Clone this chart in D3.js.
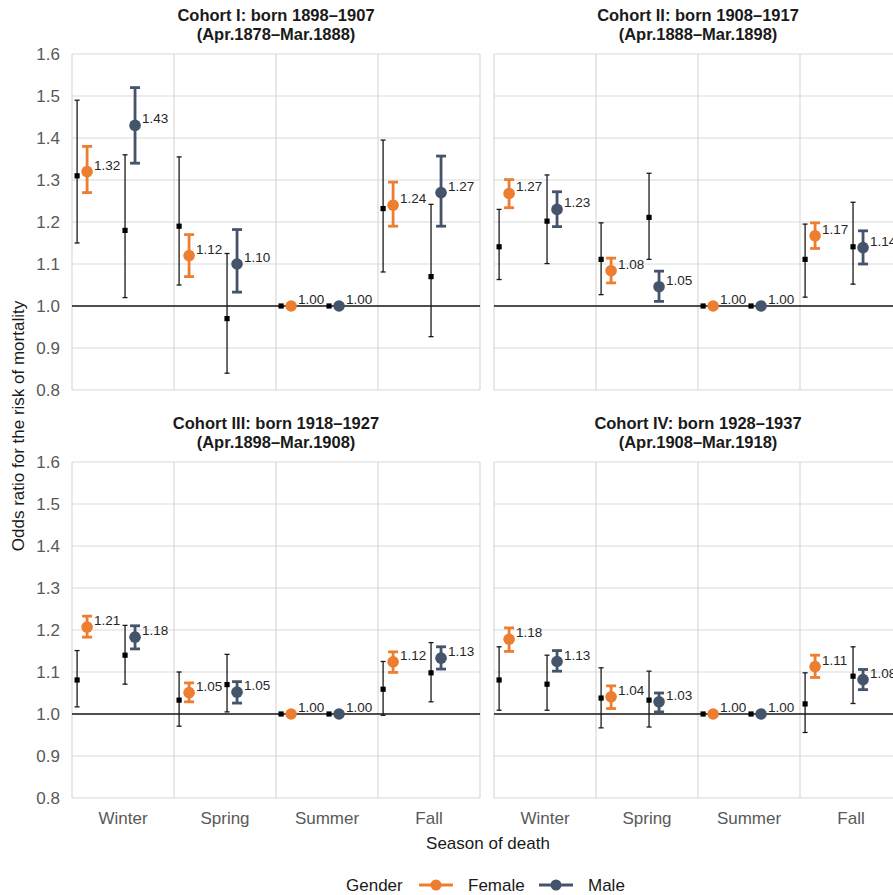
<!DOCTYPE html>
<html>
<head>
<meta charset="utf-8">
<script src="https://cdn.jsdelivr.net/npm/d3@7"></script>
<style>
  body { margin: 0; background: #fff; }
  svg { display: block; font-family: "Liberation Sans", Arial, sans-serif; }
</style>
</head>
<body>
<svg id="chart"></svg>
<script>
// seasons + panel titles
var seasons = ["Winter", "Spring", "Summer", "Fall"];
var cohortNames = ["Cohort I: born 1898\u20131907", "Cohort II: born 1908\u20131917",
                   "Cohort III: born 1918\u20131927", "Cohort IV: born 1928\u20131937"];
var cohortPeriods = ["(Apr.1878\u2013Mar.1888)", "(Apr.1888\u2013Mar.1898)",
                     "(Apr.1898\u2013Mar.1908)", "(Apr.1908\u2013Mar.1918)"];
var yTicks = [0.8, 0.9, 1.0, 1.1, 1.2, 1.3, 1.4, 1.5, 1.6];

// [odds ratio, lower, upper] per cohort, per season
// black squares = crude, coloured dots = adjusted
var femaleCrude = [
  [[1.31, 1.15, 1.49], [1.19, 1.05, 1.355], [1, 1, 1], [1.232, 1.081, 1.395]],
  [[1.141, 1.063, 1.23], [1.111, 1.027, 1.198], [1, 1, 1], [1.111, 1.021, 1.195]],
  [[1.081, 1.017, 1.151], [1.033, 0.971, 1.10], [1, 1, 1], [1.059, 0.997, 1.125]],
  [[1.081, 1.009, 1.16], [1.038, 0.967, 1.11], [1, 1, 1], [1.024, 0.956, 1.098]]
];
var femaleAdj = [
  [[1.32, 1.27, 1.38], [1.12, 1.07, 1.17], [1, 1, 1], [1.24, 1.19, 1.295]],
  [[1.268, 1.234, 1.301], [1.084, 1.055, 1.114], [1, 1, 1], [1.167, 1.137, 1.198]],
  [[1.207, 1.183, 1.233], [1.051, 1.029, 1.074], [1, 1, 1], [1.124, 1.099, 1.148]],
  [[1.178, 1.149, 1.205], [1.041, 1.013, 1.067], [1, 1, 1], [1.113, 1.087, 1.14]]
];
var maleCrude = [
  [[1.18, 1.02, 1.36], [0.97, 0.84, 1.125], [1, 1, 1], [1.07, 0.927, 1.242]],
  [[1.202, 1.101, 1.312], [1.211, 1.111, 1.316], [1, 1, 1], [1.141, 1.052, 1.247]],
  [[1.14, 1.071, 1.211], [1.07, 1.005, 1.142], [1, 1, 1], [1.098, 1.029, 1.17]],
  [[1.071, 1.009, 1.14], [1.033, 0.969, 1.102], [1, 1, 1], [1.09, 1.025, 1.16]]
];
var maleAdj = [
  [[1.43, 1.34, 1.52], [1.10, 1.033, 1.182], [1, 1, 1], [1.27, 1.19, 1.357]],
  [[1.23, 1.189, 1.272], [1.046, 1.011, 1.083], [1, 1, 1], [1.139, 1.10, 1.179]],
  [[1.183, 1.155, 1.21], [1.052, 1.026, 1.077], [1, 1, 1], [1.133, 1.107, 1.16]],
  [[1.125, 1.102, 1.151], [1.029, 1.005, 1.05], [1, 1, 1], [1.082, 1.058, 1.106]]
];

var orange = "#ed7d31", navy = "#44546a";

var width = 893, height = 895;
var svg = d3.select("#chart").attr("width", width).attr("height", height);

var panelW = 408, panelH = 336;
var colX = [72, 494], rowY = [54, 462];

var x = d3.scaleBand().domain(seasons).range([0, panelW]);
var y = d3.scaleLinear().domain([0.8, 1.6]).range([panelH, 0]);
// position of each series inside a season band (fraction of band)
var dodge = d3.scaleOrdinal().domain(["fc", "fa", "mc", "ma"]).range([0.05, 0.148, 0.52, 0.618]);

function xpos(season, key) { return x(season) + dodge(key) * x.bandwidth(); }

for (var c = 0; c < 4; c++) {
  var col = c % 2, row = Math.floor(c / 2);
  var g = svg.append("g").attr("transform", "translate(" + colX[col] + "," + rowY[row] + ")");

  // grid
  g.selectAll("line.hg").data(yTicks).enter().append("line")
    .attr("x1", 0).attr("x2", panelW)
    .attr("y1", function(d) { return y(d); }).attr("y2", function(d) { return y(d); })
    .attr("stroke", "#d9d9d9").attr("stroke-width", 1.2);
  g.selectAll("line.vg").data(seasons.concat(["end"])).enter().append("line")
    .attr("x1", function(d) { return d == "end" ? panelW : x(d); })
    .attr("x2", function(d) { return d == "end" ? panelW : x(d); })
    .attr("y1", 0).attr("y2", panelH)
    .attr("stroke", "#d9d9d9").attr("stroke-width", 1.2);

  // reference line at 1
  g.append("line").attr("x1", 0).attr("x2", panelW)
    .attr("y1", y(1)).attr("y2", y(1)).attr("stroke", "#1a1a1a").attr("stroke-width", 1.4);

  // titles
  g.append("text").attr("x", panelW / 2).attr("y", -33).attr("text-anchor", "middle")
    .attr("font-size", 16.5).attr("font-weight", "bold").attr("fill", "#1a1a1a").text(cohortNames[c]);
  g.append("text").attr("x", panelW / 2).attr("y", -14).attr("text-anchor", "middle")
    .attr("font-size", 16.5).attr("font-weight", "bold").attr("fill", "#1a1a1a").text(cohortPeriods[c]);

  // y axis on left column only
  if (col == 0) {
    var ya = g.append("g").call(d3.axisLeft(y).tickValues(yTicks).tickFormat(d3.format(".1f")).tickSize(0).tickPadding(12));
    ya.select(".domain").remove();
    ya.selectAll("text").attr("font-size", 17).attr("fill", "#595959").attr("font-family", null);
  }
  // x axis on bottom row only
  if (row == 1) {
    var xa = g.append("g").attr("transform", "translate(0," + panelH + ")")
      .call(d3.axisBottom(x).tickSize(0).tickPadding(14));
    xa.select(".domain").remove();
    xa.selectAll("text").attr("font-size", 17).attr("fill", "#595959").attr("font-family", null);
  }

  var series = [
    { key: "fc", vals: femaleCrude[c], adj: false },
    { key: "fa", vals: femaleAdj[c], adj: true, color: orange },
    { key: "mc", vals: maleCrude[c], adj: false },
    { key: "ma", vals: maleAdj[c], adj: true, color: navy }
  ];

  series.forEach(function(s) {
    var pts = s.vals.map(function(v, i) { return { season: seasons[i], or: v[0], lo: v[1], hi: v[2] }; });
    var sg = g.append("g");
    var bars = pts.filter(function(d) { return d.lo != d.hi; });
    var cap = s.adj ? 5 : 2.5;
    var stroke = s.adj ? s.color : "#1a1a1a";
    var sw = s.adj ? 2.8 : 1.3;

    sg.selectAll("line.eb").data(bars).enter().append("line")
      .attr("x1", function(d) { return xpos(d.season, s.key); })
      .attr("x2", function(d) { return xpos(d.season, s.key); })
      .attr("y1", function(d) { return y(d.lo); }).attr("y2", function(d) { return y(d.hi); })
      .attr("stroke", stroke).attr("stroke-width", sw);
    ["lo", "hi"].forEach(function(k) {
      sg.selectAll("line.cap" + k).data(bars).enter().append("line")
        .attr("x1", function(d) { return xpos(d.season, s.key) - cap; })
        .attr("x2", function(d) { return xpos(d.season, s.key) + cap; })
        .attr("y1", function(d) { return y(d[k]); }).attr("y2", function(d) { return y(d[k]); })
        .attr("stroke", stroke).attr("stroke-width", sw);
    });

    if (s.adj) {
      sg.selectAll("circle").data(pts).enter().append("circle")
        .attr("cx", function(d) { return xpos(d.season, s.key); })
        .attr("cy", function(d) { return y(d.or); })
        .attr("r", 5.8).attr("fill", s.color);
      sg.selectAll("text").data(pts).enter().append("text")
        .attr("x", function(d) { return xpos(d.season, s.key) + 7; })
        .attr("y", function(d) { return y(d.or) - 2; })
        .attr("font-size", 13.5).attr("fill", "#262626")
        .text(function(d) { return d3.format(".2f")(d.or); });
    } else {
      sg.selectAll("rect").data(pts).enter().append("rect")
        .attr("x", function(d) { return xpos(d.season, s.key) - 2.6; })
        .attr("y", function(d) { return y(d.or) - 2.6; })
        .attr("width", 5.2).attr("height", 5.2).attr("fill", "#000");
    }
  });
}

// axis titles
svg.append("text").attr("transform", "translate(24,426) rotate(-90)")
  .attr("text-anchor", "middle").attr("font-size", 17).attr("fill", "#1a1a1a")
  .text("Odds ratio for the risk of mortality");
svg.append("text").attr("x", 488).attr("y", 849).attr("text-anchor", "middle")
  .attr("font-size", 17).attr("fill", "#1a1a1a").text("Season of death");

// legend
var legend = svg.append("g").attr("transform", "translate(0,885)");
legend.append("text").attr("x", 346).attr("y", 6).attr("font-size", 17).attr("fill", "#1a1a1a").text("Gender");
var keys = [{ label: "Female", color: orange, x: 419 }, { label: "Male", color: navy, x: 539 }];
keys.forEach(function(k) {
  legend.append("line").attr("x1", k.x).attr("x2", k.x + 34).attr("y1", 0).attr("y2", 0)
    .attr("stroke", k.color).attr("stroke-width", 3);
  legend.append("circle").attr("cx", k.x + 17).attr("cy", 0).attr("r", 5.5).attr("fill", k.color);
  legend.append("text").attr("x", k.x + 49).attr("y", 6).attr("font-size", 17).attr("fill", "#1a1a1a").text(k.label);
});
</script>
</body>
</html>
